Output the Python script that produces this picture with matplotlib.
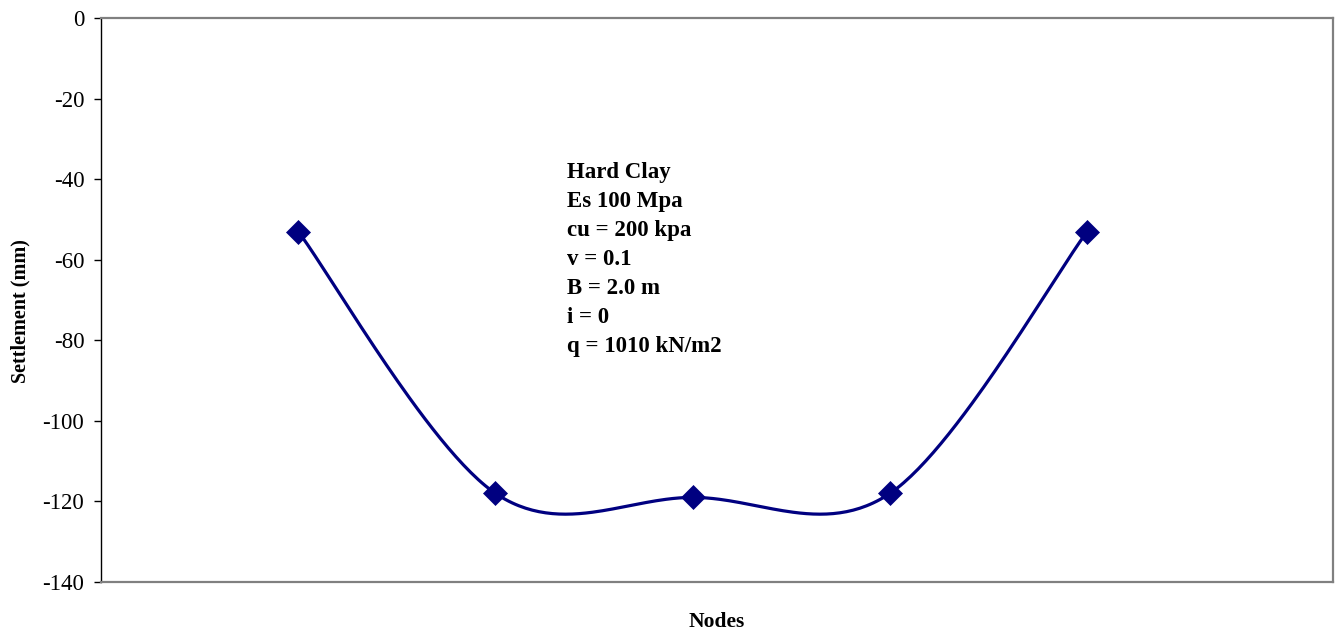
import numpy as np
import matplotlib
matplotlib.use("Agg")
import matplotlib.pyplot as plt

# Settlement at each footing node
nodes = [1, 2, 3, 4, 5]
settlement = [-53, -118, -119, -118, -53]

y_ticks = [0, -20, -40, -60, -80, -100, -120, -140]
info_lines = ["Hard Clay", "Es 100 Mpa", "cu = 200 kpa", "v = 0.1",
              "B = 2.0 m", "i = 0", "q = 1010 kN/m2"]

SERIF = ["Liberation Serif", "DejaVu Serif"]
NAVY = "#000080"


def smooth_curve(xs, ys, n=60):
    """Cubic Bezier smoothing through the points (spreadsheet-style)."""
    p = np.column_stack([xs, ys]).astype(float)
    ext = np.vstack([p[0], p, p[-1]])
    out = []
    t = np.linspace(0, 1, n)[:, None]
    for i in range(len(p) - 1):
        p0, p3 = p[i], p[i + 1]
        p1 = p0 + (ext[i + 2] - ext[i]) / 6.0
        p2 = p3 - (ext[i + 3] - ext[i + 1]) / 6.0
        seg = ((1 - t) ** 3) * p0 + 3 * ((1 - t) ** 2) * t * p1 \
            + 3 * (1 - t) * t ** 2 * p2 + t ** 3 * p3
        out.append(seg if i == 0 else seg[1:])
    c = np.vstack(out)
    return c[:, 0], c[:, 1]


fig = plt.figure(figsize=(13.42, 6.34), dpi=100)
ax = fig.add_axes([101 / 1342, 1 - 582 / 634, 1232 / 1342, 564 / 634])

cx, cy = smooth_curve(nodes, settlement)
ax.plot(cx, cy, color=NAVY, lw=2.3, solid_capstyle="round", zorder=2)
ax.plot(nodes, settlement, linestyle="none", marker="D", ms=12,
        color=NAVY, mec=NAVY, mew=0.5, zorder=3)

ax.set_xlim(0, 6.246)
ax.set_ylim(-140, 0)
ax.set_yticks(y_ticks)
ax.set_yticklabels([str(v) for v in y_ticks], family=SERIF, fontsize=16.5)
ax.set_xticks([])
ax.tick_params(axis="y", direction="out", length=5, width=1.0, color="black", pad=7)

for side in ("top", "right", "bottom"):
    ax.spines[side].set_color("#808080")
    ax.spines[side].set_linewidth(1.6)
ax.spines["left"].set_color("black")
ax.spines["left"].set_linewidth(1.0)

fig.text(20 / 1342, 1 - 311 / 634, "Settlement (mm)", family=SERIF, fontsize=14.5,
         fontweight="bold", rotation=90, ha="center", va="center")
fig.text(717 / 1342, 1 - 627 / 634, "Nodes", family=SERIF, fontsize=15.5,
         fontweight="bold", ha="center", va="baseline")

for k, line in enumerate(info_lines):
    fig.text(567 / 1342, 1 - (178 + 29 * k) / 634, line, family=SERIF,
             fontsize=16.5, fontweight="bold", ha="left", va="baseline")

fig.savefig("out.png", dpi=100, facecolor="white")
